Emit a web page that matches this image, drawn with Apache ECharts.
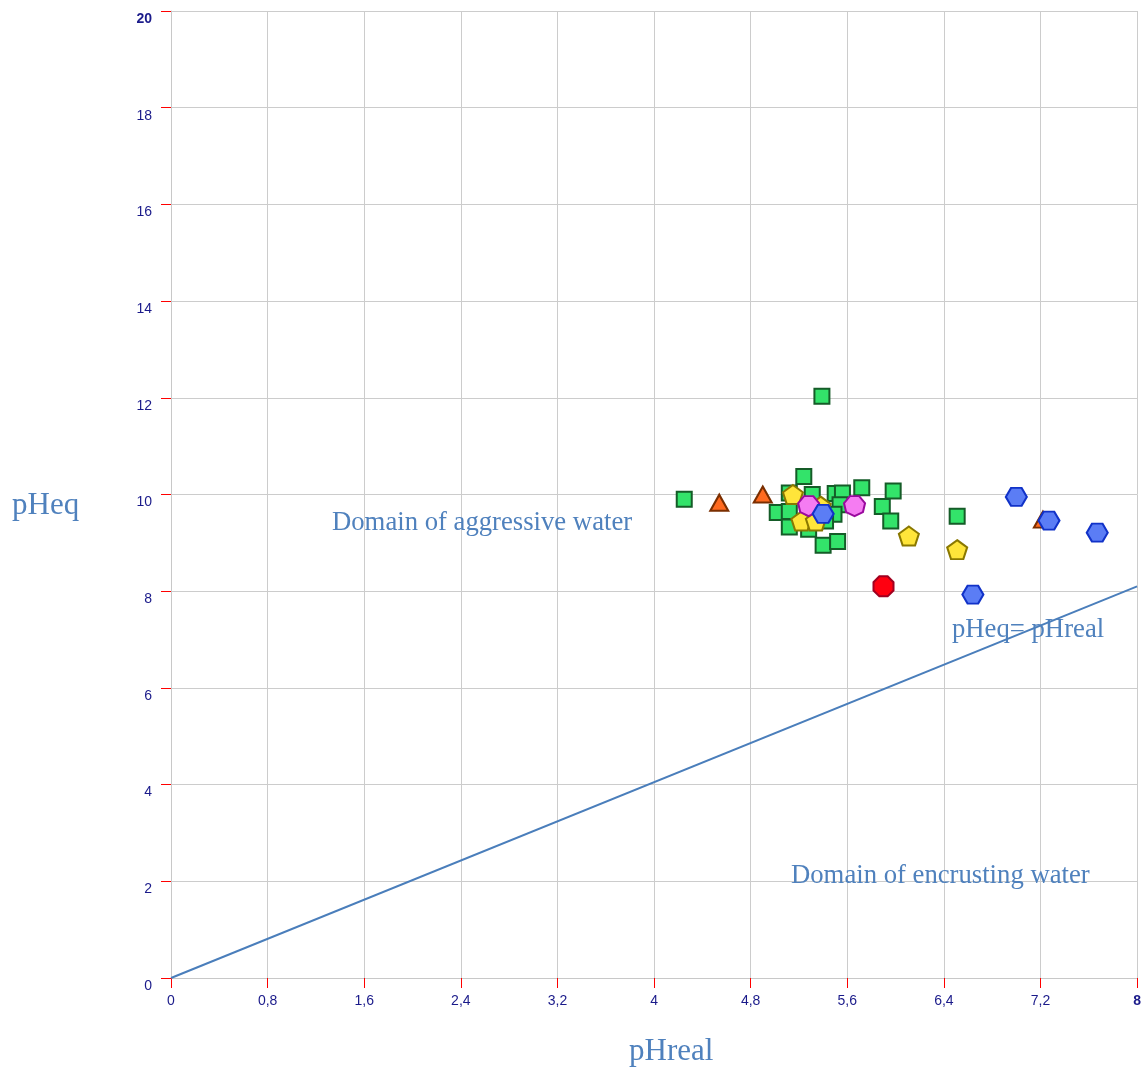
<!DOCTYPE html>
<html>
<head>
<meta charset="utf-8">
<script src="https://cdn.jsdelivr.net/npm/echarts@6/dist/echarts.min.js"></script>
<style>html,body{margin:0;padding:0;background:#fff;}#c{width:1144px;height:1070px;}</style>
</head>
<body>
<div id="c"></div>
<script>
// ---- data ----
var xTickLabels = ['0','0,8','1,6','2,4','3,2','4','4,8','5,6','6,4','7,2','8'];
var yTickLabels = ['0','2','4','6','8','10','12','14','16','18','20'];
var equalityLine = [[0,0],[8,8.1]];
var greenSquares = [[5.39,12.03],[4.25,9.90],[5.24,10.37],[5.12,10.03],[5.31,10.00],[5.50,10.02],[5.56,10.03],[5.72,10.14],[5.98,10.07],[5.89,9.75],[5.96,9.45],[5.02,9.63],[5.12,9.65],[5.12,9.33],[5.28,9.28],[5.40,8.95],[5.52,9.03],[5.54,9.79],[5.49,9.59],[5.42,9.45],[6.51,9.55]];
var orangeTriangles = [[4.54,9.83],[4.90,10.00],[7.22,9.48]];
var yellowPentagons = [[5.15,10.00],[5.22,9.45],[5.34,9.45],[5.38,9.76],[6.11,9.14],[6.51,8.86]];
var magentaHeptagons = [[5.28,9.76],[5.66,9.76]];
var blueHexagons = [[5.40,9.60],[7.00,9.95],[7.27,9.46],[7.67,9.21],[6.64,7.93]];
var redOctagons = [[5.90,8.10]];

function poly(n, startDeg){
  var pts=[];
  for(var i=0;i<n;i++){
    var a=(startDeg+i*360/n)*Math.PI/180;
    pts.push((50+50*Math.cos(a)).toFixed(3)+' '+(50+50*Math.sin(a)).toFixed(3));
  }
  return 'path://M'+pts.join(' L')+' Z';
}
var labelColor = '#1a1a8a';
var textBlue = '#4f81bd';

function fmt(list, step){
  return function(v){
    var i = Math.round(v/step);
    var s = list[i] !== undefined ? list[i] : String(v);
    return i === list.length-1 ? '{b|'+s+'}' : s;
  };
}

function scat(name, data, symbol, size, fill, stroke){
  return {name:name, type:'scatter', data:data, symbol:symbol, symbolSize:size,
    itemStyle:{color:fill, borderColor:stroke, borderWidth:2, opacity:1},
    emphasis:{disabled:true}, animation:false};
}

var chart = echarts.init(document.getElementById('c'));
chart.setOption({
  animation:false,
  backgroundColor:'#ffffff',
  grid:{left:171, right:5, top:11, bottom:92, containLabel:false},
  xAxis:{type:'value', min:0, max:8, interval:0.8,
    axisLine:{show:true, lineStyle:{color:'#c8c8c8', width:1}},
    axisTick:{show:true, length:10, lineStyle:{color:'#ff0000', width:1}},
    splitLine:{show:true, lineStyle:{color:'#cccccc', width:1}},
    axisLabel:{margin:16, color:labelColor, fontFamily:'Liberation Sans', fontSize:14,
      formatter:fmt(xTickLabels,0.8), rich:{b:{fontWeight:'bold', color:labelColor, fontFamily:'Liberation Sans', fontSize:14}}}
  },
  yAxis:{type:'value', min:0, max:20, interval:2,
    axisLine:{show:true, lineStyle:{color:'#c8c8c8', width:1}},
    axisTick:{show:true, length:10, lineStyle:{color:'#ff0000', width:1}},
    splitLine:{show:true, lineStyle:{color:'#cccccc', width:1}},
    axisLabel:{margin:19, color:labelColor, fontFamily:'Liberation Sans', fontSize:14, verticalAlign:'top', padding:[1,0,0,0],
      formatter:fmt(yTickLabels,2), rich:{b:{fontWeight:'bold', color:labelColor, fontFamily:'Liberation Sans', fontSize:14}}}
  },
  graphic:{elements:[
    {type:'text', z:1, left:12, top:490, style:{text:'pHeq', fill:textBlue, font:'31px "Liberation Serif"'}},
    {type:'text', z:1, left:629, top:1036, style:{text:'pHreal', fill:textBlue, font:'31px "Liberation Serif"'}},
    {type:'text', z:1, left:332, top:509, style:{text:'Domain of aggressive water', fill:textBlue, font:'26.7px "Liberation Serif"'}},
    {type:'text', z:1, left:952, top:616, style:{text:'pHeq= pHreal', fill:textBlue, font:'26.7px "Liberation Serif"'}},
    {type:'text', z:1, left:791, top:862, style:{text:'Domain of encrusting water', fill:textBlue, font:'26.7px "Liberation Serif"'}}
  ]},
  series:[
    {type:'line', data:equalityLine, symbol:'none', lineStyle:{color:'#4a7ebb', width:2}, silent:true, z:3},
    scat('green', greenSquares, 'rect', 15, '#33e36a', '#155c28'),
    scat('orange', orangeTriangles, 'triangle', [18,16], '#ff6a1f', '#7a2e00'),
    scat('yellow', yellowPentagons, poly(5,-90), [20,19], '#ffe53a', '#8a7800'),
    scat('magenta', magentaHeptagons, poly(7,90), [21,20], '#f57cf2', '#9a0a9e'),
    scat('blue', blueHexagons, poly(6,0), [21,18], '#5b7df5', '#1132c8'),
    scat('red', redOctagons, poly(8,22.5), [20,20], '#ff0010', '#a00020')
  ]
});
</script>
</body>
</html>
